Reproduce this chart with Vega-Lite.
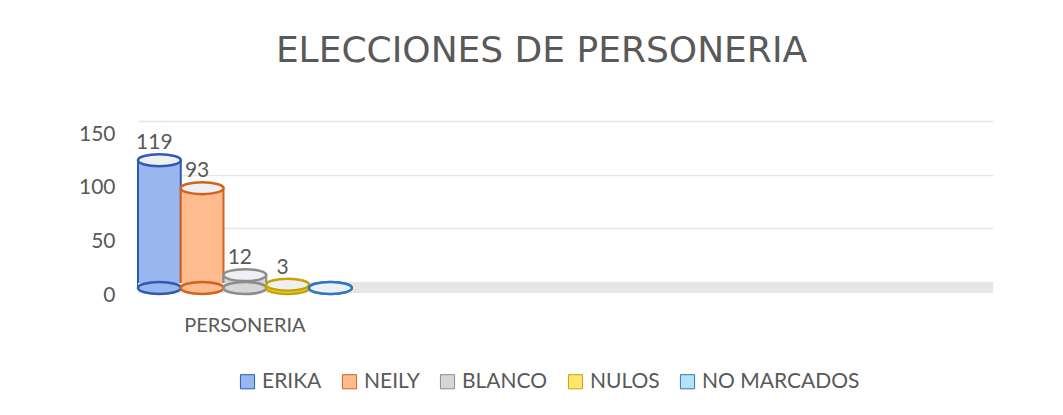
{
  "$schema": "https://vega.github.io/schema/vega-lite/v6.json",
  "width": 855,
  "height": 161,
  "autosize": {"type": "none"},
  "padding": {"left": 138, "top": 127, "right": 70, "bottom": 127},
  "background": "white",
  "title": {
    "text": "ELECCIONES DE PERSONERIA",
    "font": "DejaVu Sans",
    "fontSize": 36,
    "fontWeight": "normal",
    "color": "#595959",
    "anchor": "middle",
    "frame": "group",
    "offset": 53,
    "dx": -24
  },
  "config": {
    "view": {"stroke": null},
    "font": "Lato",
    "axis": {"labelFont": "Lato", "labelColor": "#595959"},
    "axisY": {"grid": true, "gridColor": "#E6E6E6", "gridWidth": 1.5},
    "legend": {"labelFont": "Lato", "labelColor": "#595959", "labelFontSize": 21}
  },
  "data": {
    "values": [
      {"grupo": "PERSONERIA", "opcion": "ERIKA", "votos": 119},
      {"grupo": "PERSONERIA", "opcion": "NEILY", "votos": 93},
      {"grupo": "PERSONERIA", "opcion": "BLANCO", "votos": 12},
      {"grupo": "PERSONERIA", "opcion": "NULOS", "votos": 3},
      {"grupo": "PERSONERIA", "opcion": "NO MARCADOS", "votos": 0}
    ]
  },
  "encoding": {
    "x": {
      "field": "grupo",
      "type": "nominal",
      "scale": {"domain": ["PERSONERIA", " ", "  ", "   "], "paddingInner": 0, "paddingOuter": 0},
      "axis": {"title": null, "domain": false, "ticks": false, "labelAngle": 0, "labelPadding": 27, "labelFontSize": 20, "grid": false}
    },
    "xOffset": {
      "field": "opcion",
      "type": "nominal",
      "sort": ["ERIKA", "NEILY", "BLANCO", "NULOS", "NO MARCADOS"],
      "scale": {"paddingInner": 0, "paddingOuter": 0}
    }
  },
  "layer": [
    {
      "mark": {"type": "bar", "strokeWidth": 2, "opacity": 1},
      "encoding": {
        "y": {
          "field": "votos",
          "type": "quantitative",
          "scale": {"domain": [0, 150], "nice": false, "zero": true},
          "axis": {"title": null, "values": [0, 50, 100, 150], "domain": false, "ticks": false, "grid": true, "tickOffset": -6, "labelOffset": 13, "labelPadding": 23, "labelFontSize": 21}
        },
        "fill": {
          "field": "opcion",
          "type": "nominal",
          "sort": ["ERIKA", "NEILY", "BLANCO", "NULOS", "NO MARCADOS"],
          "scale": {"domain": ["ERIKA", "NEILY", "BLANCO", "NULOS", "NO MARCADOS"], "range": ["#98B7F0", "#FDBB8E", "#D6D6D6", "#FFE66E", "#B5E2F8"]},
          "legend": {
            "title": null,
            "orient": "none",
            "legendX": 99,
            "legendY": 244,
            "direction": "horizontal",
            "symbolType": "square",
            "symbolSize": 200,
            "symbolStrokeWidth": 1,
            "columnPadding": 17,
            "labelOffset": 4
          }
        },
        "stroke": {
          "field": "opcion",
          "type": "nominal",
          "scale": {"domain": ["ERIKA", "NEILY", "BLANCO", "NULOS", "NO MARCADOS"], "range": ["#2F5AB2", "#D2621C", "#8C8C8C", "#C9A200", "#2E78C2"]},
          "legend": null
        }
      }
    },
    {
      "mark": {"type": "rule", "color": "#E6E6E6", "strokeWidth": 10},
      "encoding": {
        "x": null,
        "xOffset": null,
        "y": {"datum": 0, "type": "quantitative"}
      }
    },
    {
      "mark": {"type": "point", "filled": true, "strokeWidth": 2.5, "opacity": 1, "shape": "M-1,0 A1,0.28 0 1,0 1,0 A1,0.28 0 1,0 -1,0 Z", "size": 1830},
      "encoding": {
        "y": {"datum": 0, "type": "quantitative"},
        "fill": {"field": "opcion", "type": "nominal", "legend": null},
        "stroke": {"field": "opcion", "type": "nominal", "legend": null}
      }
    },
    {
      "mark": {"type": "point", "filled": true, "strokeWidth": 2.5, "opacity": 1, "fill": "#EEF0F4", "shape": "M-1,0 A1,0.28 0 1,0 1,0 A1,0.28 0 1,0 -1,0 Z", "size": 1830},
      "encoding": {
        "y": {"field": "votos", "type": "quantitative"},
        "stroke": {"field": "opcion", "type": "nominal", "legend": null}
      }
    },
    {
      "transform": [{"filter": "datum.votos > 0"}],
      "mark": {"type": "text", "fontSize": 21, "color": "#595959", "dx": -5, "dy": -11, "baseline": "alphabetic"},
      "encoding": {
        "y": {"field": "votos", "type": "quantitative"},
        "text": {"field": "votos", "type": "quantitative"}
      }
    }
  ]
}
